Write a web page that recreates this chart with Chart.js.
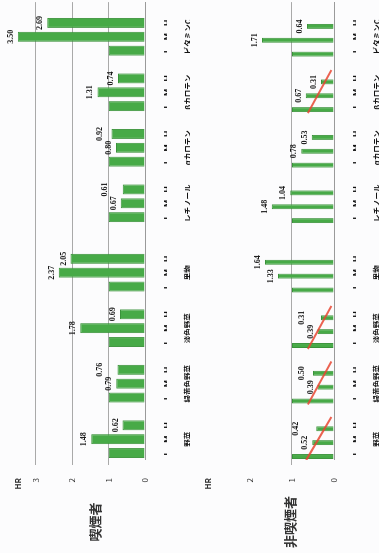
<!DOCTYPE html>
<html>
<head>
<meta charset="utf-8">
<script src="https://cdn.jsdelivr.net/npm/chart.js@4/dist/chart.umd.min.js"></script>
<style>
  html, body { margin: 0; padding: 0; background: #fcfcfd; overflow: hidden; }
  /* the figure is laid out landscape and turned a quarter turn */
  #stage {
    position: absolute; left: 0; top: 0; width: 553px; height: 379px;
    transform-origin: 0 0; transform: translate(0, 553px) rotate(-90deg);
  }
  .panel { position: absolute; left: 0; width: 553px; }
  #smokers { top: 0; height: 190px; }
  #nonSmokers { top: 190px; height: 189px; }
</style>
</head>
<body>
<div id="stage">
  <div class="panel" id="smokers"><canvas id="c1" width="553" height="190"></canvas></div>
  <div class="panel" id="nonSmokers"><canvas id="c2" width="553" height="189"></canvas></div>
</div>
<script>
// intake levels (low / middle / high) and the two sets of categories
const levels = ['L', 'M', 'H'];
const foodCategories = ['野菜', '緑黄色野菜', '淡色野菜', '果物'];
const nutrientCategories = ['レチノール', 'αカロテン', 'βカロテン', 'ビタミンC'];
const referenceHR = 1;

// hazard ratios for the middle and high groups, in category order
const smokerMid     = [1.48, 0.79, 1.78, 2.37, 0.67, 0.80, 1.31, 3.50];
const smokerHigh    = [0.62, 0.76, 0.69, 2.05, 0.61, 0.92, 0.74, 2.69];
const nonSmokerMid  = [0.52, 0.39, 0.39, 1.33, 1.48, 0.78, 0.67, 1.71];
const nonSmokerHigh = [0.42, 0.50, 0.31, 1.64, 1.04, 0.53, 0.31, 0.64];

// axis ticks
const smokerTicks = [0, 1, 2, 3];
const nonSmokerTicks = [0, 1, 2];

// categories with a falling trend among non-smokers (HR at the start and end of the red stroke)
const trendCategories = ['野菜', '緑黄色野菜', '淡色野菜', 'βカロテン'];
const trendFrom = [0.66, 0.62, 0.62, 0.62];
const trendTo   = [0.06, 0.06, 0.06, 0.06];

const categories = foodCategories.concat(nutrientCategories);

// one slot per bar, blank slots between categories and an extra one between the two sets
const slots = [];
[foodCategories, nutrientCategories].forEach((set, si) => {
  if (si > 0) slots.push(null);
  set.forEach(name => {
    levels.forEach(level => slots.push({ name, level }));
    slots.push(null);
  });
});
const levelLabels = slots.map(s => s ? s.level : '');
const nameLabels = slots.map(s => s && s.level === 'M' ? s.name : '');

function slotValues(mid, high) {
  return slots.map(s => {
    if (!s) return null;
    const k = categories.indexOf(s.name);
    return s.level === 'L' ? referenceHR : s.level === 'M' ? mid[k] : high[k];
  });
}
function slotIndex(name, level) {
  return slots.findIndex(s => s && s.name === name && s.level === level);
}

const FONT = '"Noto Sans CJK JP", "Noto Sans", sans-serif';

const valueLabels = {
  id: 'valueLabels',
  afterDatasetsDraw(chart) {
    const meta = chart.getDatasetMeta(0);
    const data = chart.data.datasets[0].data;
    const ctx = chart.ctx;
    ctx.save();
    ctx.font = 'bold 8px "Liberation Serif", serif';
    ctx.fillStyle = '#1a1a1a';
    ctx.textAlign = 'center';
    ctx.textBaseline = 'bottom';
    let prev = null;
    meta.data.forEach((bar, i) => {
      const s = slots[i];
      if (!s || s.level === 'L') { prev = null; return; }
      const text = data[i].toFixed(2);
      const w = ctx.measureText(text).width;
      let y = bar.y - 3;
      if (prev && Math.abs(prev.x - bar.x) < (w + prev.w) / 2 && Math.abs(y - prev.y) < 9) y = prev.y - 9;
      ctx.fillText(text, bar.x, y);
      prev = { x: bar.x, y, w };
    });
    ctx.restore();
  }
};

const panelTitle = {
  id: 'panelTitle',
  afterDraw(chart, args, opts) {
    const ctx = chart.ctx;
    ctx.save();
    ctx.font = 'bold 13px ' + FONT;
    ctx.fillStyle = '#333';
    ctx.textAlign = 'center';
    ctx.textBaseline = 'middle';
    ctx.fillText(opts.text, 31, chart.chartArea.top + opts.offset);
    ctx.restore();
  }
};

function makePanel(canvasId, title, mid, high, ticks, yMax, gridAt, titleOffset, trends) {
  const datasets = [{
    type: 'bar',
    data: slotValues(mid, high),
    backgroundColor: '#47aa47',
    borderColor: '#3a923a',
    borderWidth: 1,
    barPercentage: 0.72,
    categoryPercentage: 1,
    xAxisID: 'x',
    order: 2
  }];
  trends.forEach(t => {
    datasets.push({
      type: 'line',
      data: [
        { x: slotIndex(t.name, 'L') - 0.5, y: t.from },
        { x: slotIndex(t.name, 'H') + 0.6, y: t.to }
      ],
      borderColor: 'rgba(232, 70, 50, 0.85)',
      borderWidth: 2,
      pointRadius: 0,
      fill: false,
      xAxisID: 'xt',
      order: 1
    });
  });

  return new Chart(document.getElementById(canvasId), {
    data: { labels: levelLabels, datasets },
    options: {
      responsive: false,
      animation: false,
      layout: { padding: { top: 0, right: 0, left: 0, bottom: 0 } },
      plugins: {
        legend: { display: false },
        tooltip: { enabled: false },
        panelTitle: { text: title, offset: titleOffset }
      },
      scales: {
        x: {
          type: 'category',
          labels: levelLabels,
          offset: true,
          grid: { display: false },
          border: { display: true, color: '#9a9a9a', width: 1 },
          ticks: { autoSkip: false, maxRotation: 0, minRotation: 0, padding: 9,
                   color: '#111', font: { size: 9, weight: 'bold', family: FONT } },
          afterFit: s => { s.height = 22; },
          weight: 0
        },
        xn: {
          type: 'category',
          position: 'bottom',
          labels: nameLabels,
          offset: true,
          grid: { display: false },
          border: { display: false },
          ticks: { autoSkip: false, maxRotation: 0, minRotation: 0, padding: 9,
                   color: '#111', font: { size: 7.5, weight: 'bold', family: FONT } },
          afterFit: s => { s.height = 23; },
          weight: 1
        },
        xt: {
          type: 'linear',
          display: false,
          min: -0.5,
          max: slots.length - 0.5,
          offset: false
        },
        y: {
          min: 0,
          max: yMax,
          afterBuildTicks: s => { s.ticks = ticks.map(v => ({ value: v })).concat([{ value: yMax }]); },
          ticks: {
            padding: 13,
            color: '#333',
            callback: v => v === yMax ? 'HR' : String(v),
            font: c => c.tick && c.tick.value === yMax
              ? { size: 8, weight: 'bold', family: FONT }
              : { size: 8, family: FONT }
          },
          grid: {
            color: c => c.tick && gridAt.includes(c.tick.value) ? '#a9a9a9' : 'rgba(0,0,0,0)',
            lineWidth: 1,
            tickLength: 5
          },
          border: { display: false },
          afterFit: s => { s.width = 93; }
        }
      }
    },
    plugins: [valueLabels, panelTitle]
  });
}

makePanel('c1', '喫煙者', smokerMid, smokerHigh, smokerTicks, 3.5, [1, 2, 3], 77, []);
makePanel('c2', '非喫煙者', nonSmokerMid, nonSmokerHigh, nonSmokerTicks, 3, [1],
  82, trendCategories.map((name, i) => ({ name, from: trendFrom[i], to: trendTo[i] })));
</script>
</body>
</html>
